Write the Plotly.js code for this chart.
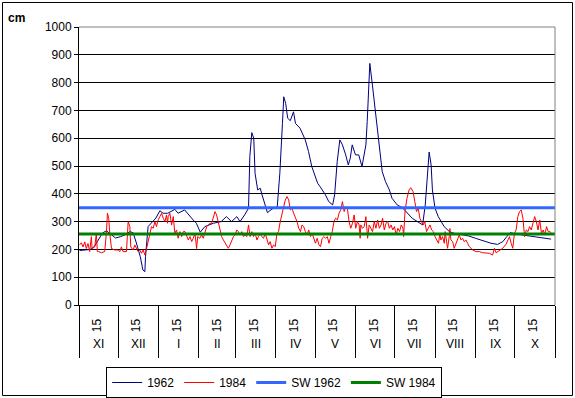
<!DOCTYPE html>
<html><head><meta charset="utf-8">
<script src="https://cdn.plot.ly/plotly-3.0.1.min.js"></script>
<style>html,body{margin:0;padding:0;background:#fff}#chart{width:575px;height:398px}</style>
</head><body><div id="chart"></div>
<script>
// Hydrological year: day 0 = 1 November
const monthLabels = ["XI","XII","I","II","III","IV","V","VI","VII","VIII","IX","X"];
const monthStarts = [0,30,61,92,120,151,181,212,242,273,304,334,365];
const midDayLabel = "15";
const seriesNames = ["1962","1984","SW 1962","SW 1984"];

const days62 = [0.5,7,9,12,18,21,25,28,32,35,39,41.5,44,47,49,50.5,51,53,55.5,59,62,64.5,68,73.5,76,81,87.5,90,93,96.5,103,109,113,117,121,123.5,127,130,131,132.5,134,135,137,139,140,143,144.5,146.5,149,152,154,156,157,158.5,160,162,164.5,166,169.5,173.5,176,178.5,181,183,185,189,191.5,194.5,196,198,200,202,204.5,206.5,208,209.5,212,214.5,217,220,221,222.5,223,225,227.5,230,232.5,235,238,240,244,248,252,255.5,259.5,263.5,265.5,267,268.5,270,271,273,275.5,280,284,287.5,294,299,304,311,316,321,325,328,330.5,340,350.5,358,362];
const lvl62 = [196,198,200,212,259,267,252,241,246,252,264,260,223,174,126,120,174,282,295,313,339,330,330,344,330,342,306,294,262,282,294,300,318,300,318,300,324,348,534,620,600,474,414,420,402,354,332,340,348,352,474,653,749,725,672,663,695,653,636,594,552,498,462,438,425,396,372,360,396,516,594,576,540,504,528,576,540,540,498,576,660,863,869,791,683,588,480,444,414,384,360,350,330,312,300,288,360,456,550,504,414,348,318,282,264,258,252,248,240,228,222,218,228,246,260,252,246,242,237];

const days84 = [0.5,1.8,3.1,4.4,5.6,6.9,8.2,9.5,10,12.1,13.3,14.1,15.1,17.2,19.7,21,21.8,22.8,23.6,24.9,27.4,30,31.3,32.5,33.8,36.4,37.7,39,39.7,41.5,42.8,44,45.3,46.6,47.9,49.2,50.5,51.8,53,54.3,55.6,56.9,58.2,59.4,60.7,62,63.3,64.6,65.9,67.1,67.9,68.4,69.7,71,72.3,73.5,74.8,76,77.4,78.7,80,81.3,82.5,83.8,85.1,86.4,87.6,88.9,90.2,91,92.7,94,95.3,96.6,97.9,99.2,100.4,101.7,103,104.3,105.5,106.8,108.1,109.4,110.7,112,113.3,114.5,115.8,117.1,118.4,119.7,121,122.2,123.5,124.8,126.1,127.4,128.7,130,131.2,132.5,133.8,135.1,136.4,137.6,138.9,140.2,141.5,142.8,144.1,145.4,146.6,147.9,149.2,150.5,151.8,153,154.3,155.6,156.9,158.2,159.5,160.8,162,163.3,164.6,165.9,167.2,168.5,169.8,171,172.3,173.6,174.9,176.2,177.5,178.8,180,181.3,182.6,184,185.2,186.5,187.8,189.1,190.4,191.7,193,194.2,195.5,196.8,198.1,199.4,200.7,202,203.3,204.5,205.8,207.1,208.4,209.7,211,212.2,213.5,214.8,215.6,216.1,217.4,218.7,220,221.3,222.5,223.8,225.1,226.4,227.7,229,230.3,231.6,232.8,234.1,235.4,236.7,238,239.3,240.6,241.9,243.2,244.5,245.8,247.1,248.4,248.9,250,251.5,253.1,254.4,256.2,257.5,258.8,260.1,261.4,262.6,263.9,265.2,266.5,267.8,269.1,270.4,271.7,273,275.7,276.7,277.5,278.8,280.1,280.8,281.8,282.6,283.9,284.4,285.2,286.5,287.7,289,290.3,291.6,292.9,294.1,295.4,296.7,298,299.3,300.6,301.9,304.4,307,309.5,312.1,314.7,317.2,318.5,319.8,322.4,324.9,327.5,328.8,330.1,331.4,332.6,333.9,335.2,336.5,337.8,339.1,340.4,341.7,343,344.3,345.5,346.8,348.1,349.4,350.7,352,353.3,354.6,355.9,357.2,358.5,359.8,361.1,362.4];
const lvl84 = [216,224,209,227,203,221,192,246,203,209,258,192,192,188,192,258,330,312,258,203,198,198,192,209,192,192,300,282,209,198,216,203,192,198,186,198,180,203,227,258,282,276,300,282,306,318,330,312,300,324,294,318,330,288,318,258,270,240,264,246,264,264,252,234,246,228,240,258,203,246,240,252,240,263,282,288,294,294,318,336,324,300,270,246,234,222,210,204,216,234,246,252,270,264,252,264,246,252,246,288,246,264,246,258,234,246,258,246,240,258,240,216,228,204,216,210,258,264,300,330,354,378,390,378,342,348,330,318,300,276,264,288,282,264,252,270,246,258,240,222,240,216,210,240,246,240,246,222,246,264,300,312,306,330,342,372,336,354,348,300,276,294,324,276,300,288,240,288,276,282,318,240,288,276,264,300,276,306,276,288,312,270,294,300,276,288,270,282,252,276,264,288,276,246,337,384,414,422,408,372,336,348,312,300,288,300,264,276,288,270,264,246,222,258,234,246,222,264,234,204,246,275,234,228,204,222,240,252,234,240,228,234,222,210,204,198,192,192,188,188,186,180,204,188,195,204,219,234,246,222,204,258,270,318,336,342,312,246,270,264,282,270,300,318,300,270,306,258,270,252,282,264,264,258];

const sw62 = 350;
const sw84 = 255;

const font = "Arial, 'Liberation Sans', sans-serif";
const plotL = 79, plotR = 555, plotT = 27, plotB = 305;
const W = plotR - plotL, H = plotB - plotT;
const px = v => (v - plotL) / W;
const py = v => (plotB - v) / H;

const traces = [
  {x: days62, y: lvl62, name: seriesNames[0], type: 'scatter', mode: 'lines', line: {color: '#000080', width: 1}},
  {x: days84, y: lvl84, name: seriesNames[1], type: 'scatter', mode: 'lines', line: {color: '#ff0000', width: 1}},
  {x: [0, 365], y: [sw62, sw62], name: seriesNames[2], type: 'scatter', mode: 'lines', xaxis: 'x2', line: {color: '#3366ff', width: 3}},
  {x: [0, 365], y: [sw84, sw84], name: seriesNames[3], type: 'scatter', mode: 'lines', xaxis: 'x2', line: {color: '#008000', width: 3}}
];

const midTicks = monthStarts.slice(0, 12).map(s => s + 14);
const monthMids = monthStarts.slice(0, 12).map((s, i) => (s + monthStarts[i + 1]) / 2);

const annotations = monthLabels.map((m, i) => ({
  x: monthMids[i], xref: 'x', y: py(344), yref: 'paper', text: m, showarrow: false,
  font: {family: font, size: 12, color: '#000'}, xanchor: 'center', yanchor: 'middle'
}));
annotations.push({x: px(17), xref: 'paper', y: py(18), yref: 'paper', text: '<b>cm</b>', showarrow: false,
  font: {family: font, size: 12, color: '#000'}, xanchor: 'center', yanchor: 'middle'});

const layout = {
  width: 575, height: 398,
  margin: {l: plotL, r: 575 - plotR, t: plotT, b: 398 - plotB, pad: 0, autoexpand: false},
  paper_bgcolor: '#fff', plot_bgcolor: '#fff',
  showlegend: true,
  legend: {orientation: 'h', x: 0.41, xanchor: 'center', y: py(367), yanchor: 'top',
    bordercolor: '#000', borderwidth: 1, bgcolor: '#fff',
    font: {family: font, size: 12, color: '#000'}, tracegroupgap: 0, itemwidth: 30},
  xaxis: {range: [0, 365], tickmode: 'array', tickvals: midTicks, ticktext: midTicks.map(() => midDayLabel),
    tickangle: -90, ticks: '', showgrid: false, zeroline: false, showline: true, linecolor: '#000', linewidth: 1,
    tickfont: {family: font, size: 12, color: '#000'}, ticklabelstandoff: 8, fixedrange: true, automargin: false},
  xaxis2: {range: [0, 365], overlaying: 'x', anchor: 'y', side: 'bottom', tickmode: 'array', tickvals: monthStarts,
    ticks: 'outside', ticklen: 52, tickcolor: '#000', tickwidth: 1, showticklabels: false, showgrid: false,
    zeroline: false, showline: false, fixedrange: true, automargin: false},
  yaxis: {range: [0, 1000], dtick: 100, tick0: 0, showgrid: true, gridcolor: '#000', gridwidth: 1,
    zeroline: false, showline: true, linecolor: '#000', linewidth: 1, ticks: 'outside', ticklen: 4, tickcolor: '#000',
    tickfont: {family: font, size: 12, color: '#000'}, fixedrange: true, automargin: false},
  annotations: annotations,
  shapes: [
    {type: 'line', xref: 'paper', yref: 'paper', x0: 0, x1: 1, y0: 1, y1: 1, line: {color: '#808080', width: 1}, layer: 'above'},
    {type: 'line', xref: 'paper', yref: 'paper', x0: 1, x1: 1, y0: 0, y1: 1, line: {color: '#808080', width: 1}, layer: 'above'},
    {type: 'rect', xref: 'paper', yref: 'paper', x0: px(2.5), x1: px(572.5), y0: py(395.5), y1: py(2.5), line: {color: '#000', width: 1}, layer: 'below'}
  ]
};

Plotly.newPlot('chart', traces, layout, {staticPlot: true, displayModeBar: false});
</script>
</body></html>
